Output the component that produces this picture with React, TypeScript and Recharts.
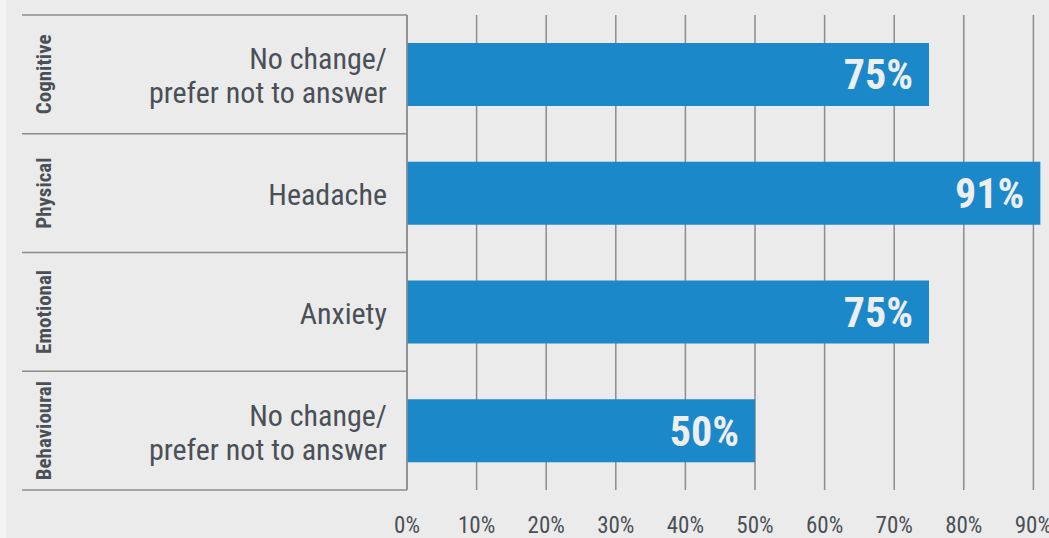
import React from "react";
import {
  BarChart,
  Bar,
  XAxis,
  YAxis,
  CartesianGrid,
  LabelList,
} from "recharts";

const groups = ["Cognitive", "Physical", "Emotional", "Behavioural"];
const answers = [
  ["No change/", "prefer not to answer"],
  ["Headache"],
  ["Anxiety"],
  ["No change/", "prefer not to answer"],
];
const values = [75, 91, 75, 50];
const xTicks = [0, 10, 20, 30, 40, 50, 60, 70, 80, 90, 100];

const data = groups.map((g, i) => ({ group: g, value: values[i] }));

const FONT = "'Roboto Condensed', 'Liberation Sans Narrow', 'DejaVu Sans Condensed', Roboto, sans-serif";
const TEXT = "#4a5057";
const LINE = "#8c8c8c";
const TOP = 15;
const PLOT_H = 475;
const AXIS_X = 407;
const PANEL_LEFT = 22;
const band = PLOT_H / groups.length;

const CategoryTick = (props: any) => {
  const { x, y, payload, index } = props;
  const lines = answers[index] || [];
  const top = y - band / 2;
  return (
    <g>
      <line x1={PANEL_LEFT} x2={AXIS_X} y1={top} y2={top} stroke={LINE} strokeWidth={1.5} />
      {index === groups.length - 1 && (
        <line x1={PANEL_LEFT} x2={AXIS_X} y1={top + band} y2={top + band} stroke={LINE} strokeWidth={1.5} />
      )}
      <text
        x={x}
        y={y + 1}
        textAnchor="end"
        dominantBaseline="central"
        fontFamily={FONT}
        fontSize={30}
        fill={TEXT}
      >
        {lines.map((l: string, i: number) => (
          <tspan key={i} x={x} dy={i === 0 ? -(lines.length - 1) * 17 : 34}>
            {l}
          </tspan>
        ))}
      </text>
      <text
        transform={`translate(${PANEL_LEFT + 22}, ${y}) rotate(-90)`}
        textAnchor="middle"
        dominantBaseline="central"
        fontFamily={FONT}
        fontSize={21}
        fontWeight="bold"
        fill={TEXT}
      >
        {payload.value}
      </text>
    </g>
  );
};

export default function App() {
  return (
    <div
      style={{
        position: "fixed",
        left: 0,
        top: 0,
        width: 1049,
        height: 538,
        overflow: "hidden",
        background: "#ecebeb",
        boxSizing: "border-box",
        borderLeft: "6px solid #f3f3f3",
      }}
    >
      <div style={{ position: "absolute", left: -6, top: 0 }}>
        <BarChart
          width={1110}
          height={538}
          data={data}
          layout="vertical"
          margin={{ top: TOP, right: 7, bottom: 18, left: 0 }}
          barSize={63}
        >
          <CartesianGrid horizontal={false} stroke={LINE} strokeWidth={1.5} />
          <XAxis
            type="number"
            domain={[0, 100]}
            ticks={xTicks}
            interval={0}
            tickFormatter={(v: number) => `${v}%`}
            axisLine={false}
            tickLine={false}
            tickSize={0}
            tickMargin={27}
            tick={{ fontFamily: FONT, fontSize: 23, fill: TEXT }}
            height={30}
          />
          <YAxis
            type="category"
            dataKey="group"
            width={AXIS_X}
            axisLine={{ stroke: LINE, strokeWidth: 1.5 }}
            tickLine={false}
            tickSize={0}
            tickMargin={20}
            tick={<CategoryTick />}
          />
          <Bar dataKey="value" fill="#1b88c9" isAnimationActive={false}>
            <LabelList
              dataKey="value"
              position="insideRight"
              offset={16}
              formatter={(v: any) => `${v}%`}
              fill="#eeeeee"
              fontFamily={FONT}
              fontSize={42}
              fontWeight="bold"
            />
          </Bar>
        </BarChart>
      </div>
    </div>
  );
}
